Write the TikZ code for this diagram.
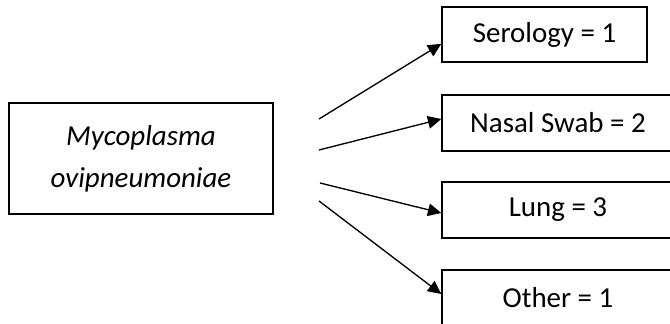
\documentclass[tikz,border=0pt]{standalone}
\usepackage{fontspec}
\setmainfont{Carlito}
\usetikzlibrary{arrows.meta}

\tikzset{
  box/.style={draw, line width=1.1pt, inner sep=0pt, align=center,
    font=\fontsize{21.7}{31.5}\selectfont},
  arr/.style={-{Triangle[length=10pt, width=9.5pt]}, line width=1pt}
}

\begin{document}
\begin{tikzpicture}[x=0.75pt, y=-0.75pt]
    \useasboundingbox (0,0) rectangle (670,324);
    
    % Origine
    \node[box, minimum width=198pt, minimum height=83.25pt] (myco) at (141,158.5)
        {\itshape Mycoplasma\\\itshape ovipneumoniae};
    
    % Campioni
    \node[box, minimum width=153.75pt, minimum height=41.25pt] (sero) at (544.5,34.5) {Serology = 1};
    \node[box, minimum width=174pt, minimum height=42pt] (nasal) at (558,123) {Nasal Swab = 2};
    \node[box, minimum width=174pt, minimum height=42pt] (lung) at (558,210) {Lung = 3};
    \node[box, minimum width=174pt, minimum height=42pt] (other) at (558,298) {Other = 1};
    
    % Punti di partenza
    \coordinate (s1) at (319,119);
    \coordinate (s2) at (319,150);
    \coordinate (s3) at (320,183);
    \coordinate (s4) at (319,201);
    
    % Frecce
    \draw[arr] (s1) -- ([yshift=-7pt]sero.west);
    \draw[arr] (s2) -- ([yshift=3pt]nasal.west);
    \draw[arr] (s3) -- ([yshift=-2.25pt]lung.west);
    \draw[arr] (s4) -- ([yshift=3pt]other.west);
    
\end{tikzpicture}
\end{document}
